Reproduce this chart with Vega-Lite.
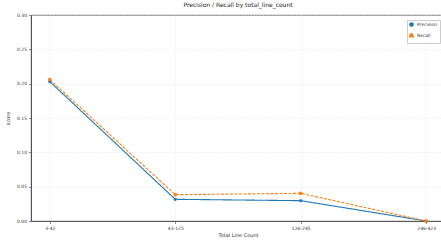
{
  "$schema": "https://vega.github.io/schema/vega-lite/v6.json",
  "autosize": {"type": "none"},
  "padding": {"left": 31, "top": 15, "right": 0, "bottom": 22},
  "width": 414,
  "height": 206,
  "background": "white",
  "title": {"text": "Precision / Recall by total_line_count", "font": "DejaVu Sans", "fontSize": 6, "fontWeight": "normal", "color": "#222", "offset": 4},
  "data": {"values": [
    {"bucket": "3-42", "series": "Precision", "score": 0.203},
    {"bucket": "43-125", "series": "Precision", "score": 0.0316},
    {"bucket": "126-245", "series": "Precision", "score": 0.0296},
    {"bucket": "246-423", "series": "Precision", "score": 0.0},
    {"bucket": "3-42", "series": "Recall", "score": 0.206},
    {"bucket": "43-125", "series": "Recall", "score": 0.0383},
    {"bucket": "126-245", "series": "Recall", "score": 0.0403},
    {"bucket": "246-423", "series": "Recall", "score": 0.0}
  ]},
  "config": {
    "view": {"stroke": "#444", "strokeWidth": 0.8},
    "axis": {"labelFont": "DejaVu Sans", "titleFont": "DejaVu Sans", "labelFontSize": 4.5, "titleFontSize": 5, "titleFontWeight": "normal", "labelColor": "#333", "titleColor": "#333", "domainColor": "#444", "domainWidth": 0.8, "tickColor": "#444", "tickSize": 2.5, "tickWidth": 0.6, "gridColor": "#e6e6e6", "gridWidth": 0.5, "gridDash": [2, 1], "labelPadding": 2}
  },
  "encoding": {
    "x": {"field": "bucket", "type": "ordinal", "sort": ["3-42", "43-125", "126-245", "246-423"], "scale": {"type": "point", "padding": 0.15}, "axis": {"title": "Total Line Count", "labelAngle": 0, "titlePadding": 2, "grid": true}},
    "y": {"field": "score", "type": "quantitative", "scale": {"domain": [0, 0.3], "nice": false}, "axis": {"title": "score", "values": [0, 0.05, 0.1, 0.15, 0.2, 0.25, 0.3], "format": ".2f", "titlePadding": 6, "grid": true}},
    "color": {"field": "series", "type": "nominal", "scale": {"domain": ["Precision", "Recall"], "range": ["#1f77b4", "#ff7f0e"]},
      "legend": {"title": null, "orient": "top-right", "offset": 5, "labelFont": "DejaVu Sans", "labelFontSize": 4.5, "labelColor": "#333", "symbolSize": 10, "strokeColor": "#ccc", "fillColor": "white", "padding": 2, "rowPadding": 0, "labelOffset": 3}}
  },
  "layer": [
    {"mark": {"type": "line", "strokeWidth": 1.1}, "encoding": {"strokeDash": {"field": "series", "type": "nominal", "scale": {"domain": ["Precision", "Recall"], "range": [[1, 0], [3, 1.5]]}, "legend": null}}},
    {"mark": {"type": "point", "filled": true, "opacity": 1, "size": 10}, "encoding": {
      "shape": {"field": "series", "type": "nominal", "scale": {"domain": ["Precision", "Recall"], "range": ["circle", "square"]}}
    }}
  ]
}
